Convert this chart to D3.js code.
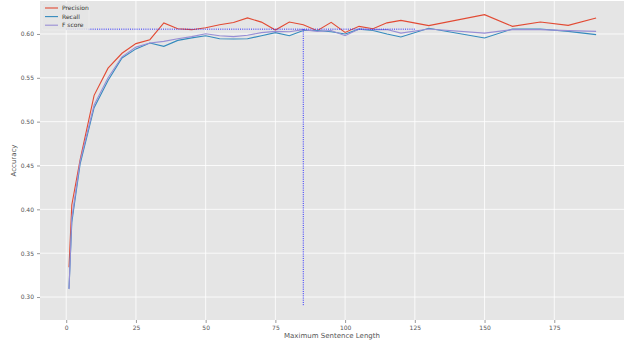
<!DOCTYPE html>
<head>
<meta charset="utf-8">
<title>Accuracy vs sentence length</title>
<script src="https://d3js.org/d3.v7.min.js"></script>
<style>
  body { margin: 0; background: #fff; }
  text { font-family: "DejaVu Sans", sans-serif; }
</style>
</head>
<body>
<div id="chart"></div>
<script>
    // data
    var lengths   = [1, 2, 5, 10, 15, 20, 25, 30, 35, 40, 45, 50, 55, 60, 65, 70, 75, 80, 85, 90, 95, 100, 105, 110, 115, 120, 130, 150, 160, 170, 180, 190];
    var precision = [0.334, 0.405, 0.4566, 0.530, 0.561, 0.578, 0.589, 0.5935, 0.6125, 0.606, 0.6049, 0.607, 0.6105, 0.613, 0.6183, 0.6135, 0.6045, 0.6137, 0.6106, 0.6038, 0.6132, 0.6018, 0.6087, 0.606, 0.6127, 0.6155, 0.6095, 0.622, 0.6087, 0.6137, 0.6098, 0.6183];
    var recall    = [0.3095, 0.385, 0.452, 0.516, 0.547, 0.5726, 0.583, 0.5897, 0.5859, 0.5927, 0.5955, 0.598, 0.5946, 0.5943, 0.5946, 0.598, 0.6015, 0.598, 0.604, 0.604, 0.6025, 0.600, 0.6055, 0.604, 0.600, 0.5966, 0.6065, 0.5954, 0.6057, 0.6057, 0.603, 0.5992];
    var fscore    = [0.309, 0.39, 0.455, 0.519, 0.550, 0.574, 0.585, 0.5897, 0.5916, 0.5946, 0.597, 0.6003, 0.598, 0.597, 0.5985, 0.6015, 0.603, 0.6026, 0.605, 0.603, 0.604, 0.598, 0.6057, 0.605, 0.605, 0.601, 0.6057, 0.601, 0.605, 0.605, 0.6038, 0.603];
    var seriesNames = ["Precision", "Recall", "F score"];
    var xTicks = [0, 25, 50, 75, 100, 125, 150, 175];
    var yTicks = [0.30, 0.35, 0.40, 0.45, 0.50, 0.55, 0.60];
    // reference lines: best length and its score
    var bestLength = 85, bestScore = 0.6055, hlineEnd = 125, vlineBottom = 0.29;

    var W = 629, H = 344;
    var margin = {top: 1, right: 5, bottom: 24, left: 40},
        width = W - margin.left - margin.right,
        height = H - margin.top - margin.bottom;

    var svg = d3.select("#chart")
      .append("svg")
        .attr("width", W)
        .attr("height", H)
      .append("g")
        .attr("transform", "translate(" + margin.left + "," + margin.top + ")");

    var x = d3.scaleLinear().domain([-9.4, 200]).range([0, width]);
    var y = d3.scaleLinear().domain([0.2738, 0.6376]).range([height, 0]);

    svg.append("rect")
      .attr("width", width).attr("height", height)
      .attr("fill", "#e5e5e5");

    // grid
    svg.append("g").selectAll("line").data(xTicks).enter().append("line")
      .attr("x1", d => x(d)).attr("x2", d => x(d))
      .attr("y1", 0).attr("y2", height)
      .attr("stroke", "#fff").attr("stroke-width", 0.8);
    svg.append("g").selectAll("line").data(yTicks).enter().append("line")
      .attr("y1", d => y(d)).attr("y2", d => y(d))
      .attr("x1", 0).attr("x2", width)
      .attr("stroke", "#fff").attr("stroke-width", 0.8);

    // axes
    var xAxis = svg.append("g")
      .attr("transform", "translate(0," + height + ")")
      .call(d3.axisBottom(x).tickValues(xTicks).tickSize(3).tickPadding(3).tickFormat(d3.format("d")));
    var yAxis = svg.append("g")
      .call(d3.axisLeft(y).tickValues(yTicks).tickSize(3).tickPadding(3).tickFormat(d3.format(".2f")));
    [xAxis, yAxis].forEach(function(a) {
      a.select(".domain").remove();
      a.selectAll(".tick line").attr("stroke", "#555").attr("stroke-width", 0.6);
      a.selectAll(".tick text").attr("fill", "#555").style("font-size", "6px")
        .style("font-family", "DejaVu Sans, sans-serif");
    });

    svg.append("text")
      .attr("x", width / 2).attr("y", height + 18)
      .attr("text-anchor", "middle")
      .attr("fill", "#555").style("font-size", "7px")
      .text("Maximum Sentence Length");
    svg.append("text")
      .attr("transform", "translate(-24," + (height / 2) + ")rotate(-90)")
      .attr("text-anchor", "middle")
      .attr("fill", "#555").style("font-size", "7px")
      .text("Accuracy");

    // lines
    var color = d3.scaleOrdinal().domain(seriesNames).range(["#E24A33", "#348ABD", "#988ED5"]);
    var series = [precision, recall, fscore];
    var line = d3.line().x((d, i) => x(lengths[i])).y(d => y(d));
    series.forEach(function(vals, k) {
      svg.append("path")
        .datum(vals)
        .attr("fill", "none")
        .attr("stroke", color(seriesNames[k]))
        .attr("stroke-width", 1.1)
        .attr("d", line);
    });

    // dotted reference lines
    svg.append("line")
      .attr("x1", x(0)).attr("x2", x(hlineEnd))
      .attr("y1", y(bestScore)).attr("y2", y(bestScore))
      .attr("stroke", "#2b2bff").attr("stroke-width", 1)
      .attr("stroke-dasharray", "1,1.2");
    svg.append("line")
      .attr("x1", x(bestLength)).attr("x2", x(bestLength))
      .attr("y1", y(bestScore)).attr("y2", y(vlineBottom))
      .attr("stroke", "#2b2bff").attr("stroke-width", 1)
      .attr("stroke-dasharray", "1,1.2");

    // legend
    var legend = svg.append("g").attr("transform", "translate(2,2)");
    legend.append("rect")
      .attr("width", 47).attr("height", 27).attr("rx", 1.5)
      .attr("fill", "#e5e5e5").attr("fill-opacity", 0.8)
      .attr("stroke", "#eeeeee").attr("stroke-width", 0.6);
    seriesNames.forEach(function(name, i) {
      var ly = 5 + i * 8.6;
      legend.append("line")
        .attr("x1", 3).attr("x2", 16).attr("y1", ly).attr("y2", ly)
        .attr("stroke", color(name)).attr("stroke-width", 1.1);
      legend.append("text")
        .attr("x", 20).attr("y", ly + 2.2)
        .attr("fill", "#333").style("font-size", "6px")
        .text(name);
    });
</script>
</body>
